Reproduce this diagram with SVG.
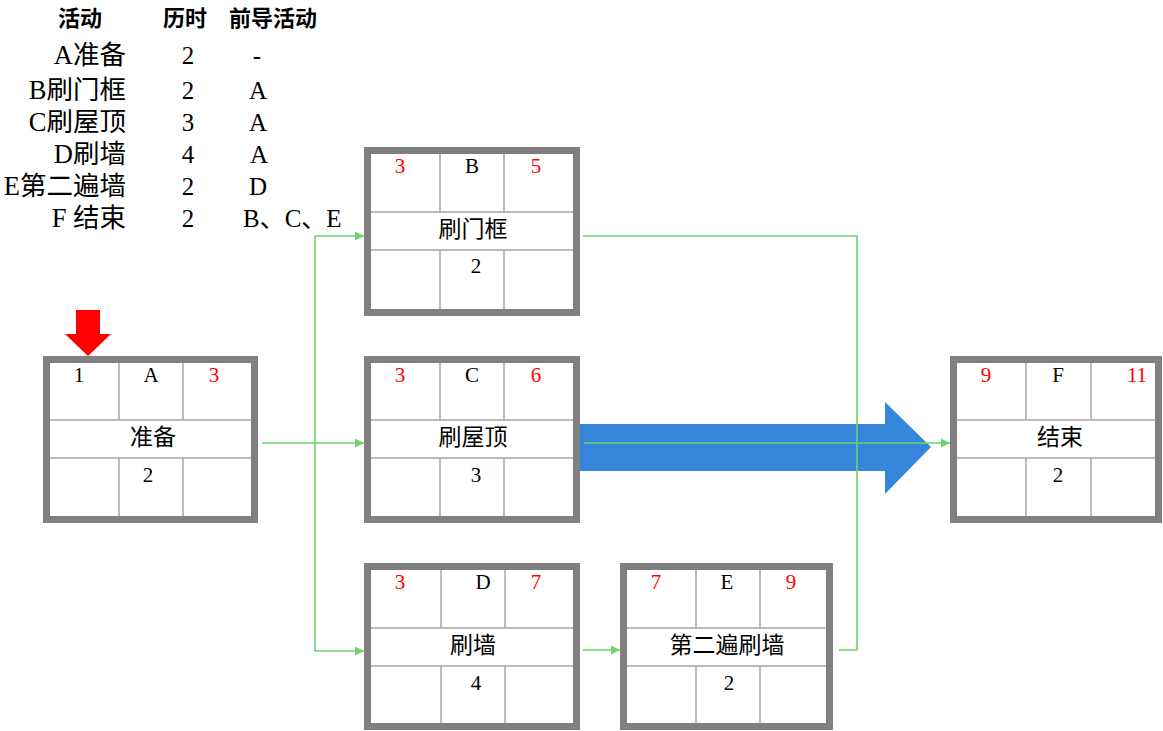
<svg xmlns="http://www.w3.org/2000/svg" width="1163" height="731" viewBox="0 0 1163 731">
<defs>
<style>
.box{fill:#ffffff;stroke:#808080;stroke-width:7}
.grid{stroke:#a6a6a6;stroke-width:1.5;fill:none}
.t{font-family:"Liberation Serif","Times New Roman",Times,serif;font-size:21px;fill:#000;text-anchor:middle}
.r{fill:#ff0000}
.m{font-family:"Noto Sans CJK SC","Noto Sans",sans-serif;font-size:23px;fill:#000;text-anchor:middle}
.h{font-family:"Noto Sans CJK SC","Noto Sans",sans-serif;font-size:22px;font-weight:bold;fill:#000;text-anchor:middle}
.row{font-family:"Liberation Serif","Noto Sans CJK SC",serif;font-size:26.5px;fill:#000;text-anchor:end}
.num{font-family:"Liberation Serif","Noto Sans CJK SC",serif;font-size:25px;fill:#000;text-anchor:middle}
.pre{font-family:"Liberation Serif","Noto Sans CJK SC",serif;font-size:25px;fill:#000;text-anchor:start}
.c{stroke:#6dd36d;stroke-width:1.6;fill:none}
</style>
<marker id="ah" markerWidth="9" markerHeight="9" refX="9" refY="4.5" orient="auto" markerUnits="userSpaceOnUse">
<path d="M0,0 L9,4.5 L0,9 z" fill="#6dd36d"/>
</marker>
</defs>
<rect width="1163" height="731" fill="#ffffff"/>

<g id="table">
<text class="h" x="80" y="26">活动</text>
<text class="h" x="185" y="26">历时</text>
<text class="h" x="273" y="26">前导活动</text>
<text class="row" x="126" y="64">A准备</text>
<text class="row" x="126" y="99">B刷门框</text>
<text class="row" x="126" y="131">C刷屋顶</text>
<text class="row" x="126" y="163">D刷墙</text>
<text class="row" x="126" y="195">E第二遍墙</text>
<text class="row" x="126" y="227">F 结束</text>
<text class="num" x="188" y="64">2</text>
<text class="num" x="188" y="99">2</text>
<text class="num" x="188" y="131">3</text>
<text class="num" x="188" y="163">4</text>
<text class="num" x="188" y="195">2</text>
<text class="num" x="188" y="227">2</text>
<text class="num" x="257" y="64">-</text>
<text class="num" x="258" y="99">A</text>
<text class="num" x="258" y="131">A</text>
<text class="num" x="259" y="163">A</text>
<text class="num" x="258" y="195">D</text>
<text class="pre" x="243" y="227">B、C、E</text>
</g>

<g id="critical-arrow">
<polygon points="580,424 885,424 885,402 931,447 885,494 885,471 580,471" fill="#3586db"/>
</g>

<g id="start-marker">
<polygon points="76,310 100,310 100,334 111,334 88,356 65,334 76,334" fill="#ff0000"/>
</g>

<g id="node-A">
<rect class="box" x="46.5" y="359.5" width="208" height="160"/>
<path class="grid" d="M50,420 H251 M50,458 H251 M119,363 V420 M183,363 V420 M119,458 V516 M183,458 V516"/>
<text class="t" x="79" y="382">1</text>
<text class="t" x="151" y="382">A</text>
<text class="t r" x="214" y="382">3</text>
<text class="m" x="153" y="445">准备</text>
<text class="t" x="148" y="482">2</text>
</g>

<g id="node-B">
<rect class="box" x="367.5" y="150.5" width="209" height="162"/>
<path class="grid" d="M371,212 H573 M371,250 H573 M440,154 V212 M504,154 V212 M440,250 V309 M504,250 V309"/>
<text class="t r" x="400" y="173">3</text>
<text class="t" x="472" y="173">B</text>
<text class="t r" x="536" y="173">5</text>
<text class="m" x="473" y="237">刷门框</text>
<text class="t" x="476" y="273">2</text>
</g>

<g id="node-C">
<rect class="box" x="367.5" y="359.5" width="209" height="160"/>
<path class="grid" d="M371,420 H573 M371,458 H573 M440,363 V420 M504,363 V420 M440,458 V516 M504,458 V516"/>
<text class="t r" x="400" y="382">3</text>
<text class="t" x="472" y="382">C</text>
<text class="t r" x="536" y="382">6</text>
<text class="m" x="473" y="445">刷屋顶</text>
<text class="t" x="476" y="482">3</text>
</g>

<g id="node-D">
<rect class="box" x="367.5" y="566.5" width="209" height="160"/>
<path class="grid" d="M371,628 H573 M371,666 H573 M441,570 V628 M505,570 V628 M441,666 V723 M505,666 V723"/>
<text class="t r" x="400" y="589">3</text>
<text class="t" x="483" y="589">D</text>
<text class="t r" x="536" y="589">7</text>
<text class="m" x="473" y="653">刷墙</text>
<text class="t" x="476" y="690">4</text>
</g>

<g id="node-E">
<rect class="box" x="623.5" y="566.5" width="206" height="160"/>
<path class="grid" d="M627,628 H826 M627,666 H826 M696,570 V628 M760,570 V628 M696,666 V723 M760,666 V723"/>
<text class="t r" x="656" y="589">7</text>
<text class="t" x="727" y="589">E</text>
<text class="t r" x="791" y="589">9</text>
<text class="m" x="727" y="653">第二遍刷墙</text>
<text class="t" x="729" y="690">2</text>
</g>

<g id="node-F">
<rect class="box" x="953.5" y="359.5" width="205" height="160"/>
<path class="grid" d="M957,420 H1155 M957,458 H1155 M1026,363 V420 M1091,363 V420 M1026,458 V516 M1091,458 V516"/>
<text class="t r" x="986" y="382">9</text>
<text class="t" x="1058" y="382">F</text>
<text class="t r" x="1137" y="382">11</text>
<text class="m" x="1060" y="445">结束</text>
<text class="t" x="1058" y="482">2</text>
</g>

<g id="connectors">
<line class="c" x1="262" y1="443" x2="364" y2="443" marker-end="url(#ah)"/>
<line class="c" x1="315" y1="236" x2="315" y2="651"/>
<line class="c" x1="315" y1="236" x2="364" y2="236" marker-end="url(#ah)"/>
<line class="c" x1="315" y1="651" x2="364" y2="651" marker-end="url(#ah)"/>
<line class="c" x1="583" y1="650" x2="620" y2="650" marker-end="url(#ah)"/>
<polyline class="c" points="583,236 857,236 857,650 839,650"/>
<line class="c" x1="584" y1="443" x2="950" y2="443" marker-end="url(#ah)"/>
</g>
</svg>
